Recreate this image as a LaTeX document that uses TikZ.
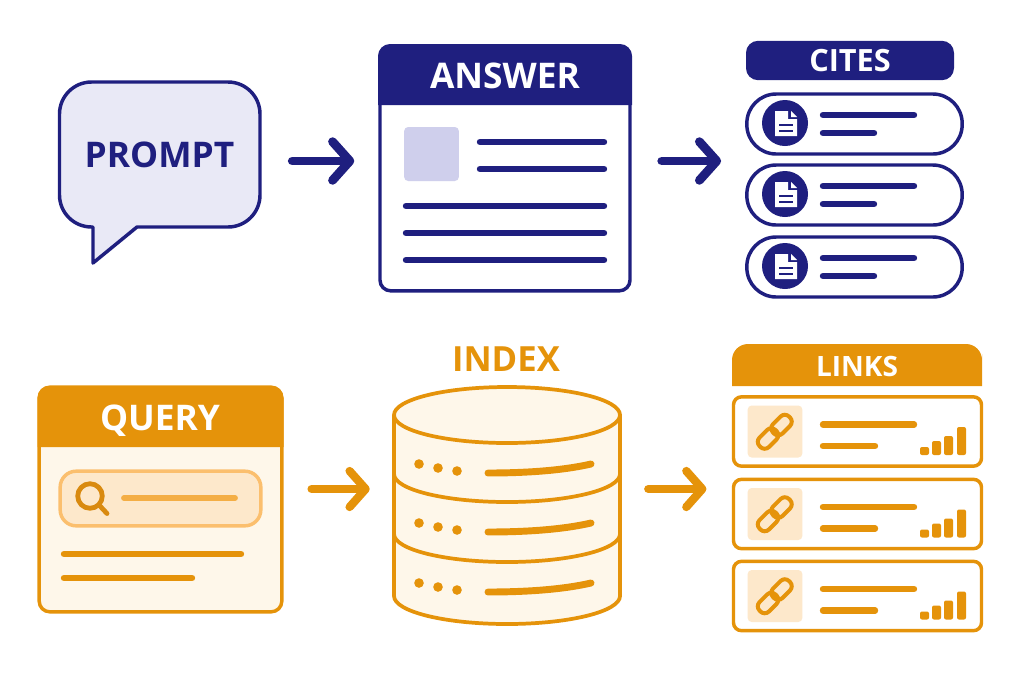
\documentclass[tikz,border=0pt]{standalone}
\usepackage{fontspec}
\setmainfont{Open Sans}
\usetikzlibrary{arrows.meta}
\definecolor{navyc}{HTML}{1F1F7F}
\definecolor{bubblec}{HTML}{E9E9F6}
\definecolor{tilec}{HTML}{CFCFEC}
\definecolor{amberc}{HTML}{E5930A}
\definecolor{creamc}{HTML}{FEF7EA}
\definecolor{peachc}{HTML}{FDE8CB}
\definecolor{softc}{HTML}{FBBF6E}
\definecolor{midc}{HTML}{F4AE45}
\definecolor{darkc}{HTML}{D98A10}
% one row of the upper right list
\newcommand{\citerow}[2]{
    \node[citepill] at (854.5,#2) (#1) {};
    \node[citedisc] at (785,#2-1) (#1disc) {};
    \fill[white] (775,#2-13) -- (788,#2-13) -- (788,#2-5) -- (797,#2-5) -- (797,#2+12) -- (775,#2+12) -- cycle;
    \fill[white] (791,#2-13) -- (797,#2-7) -- (791,#2-7) -- cycle;
    \draw[navyc,line width=2pt] (779,#2+1) -- (793,#2+1);
    \draw[navyc,line width=2pt] (779,#2+7) -- (793,#2+7);
    \draw[navyline] (823,#2-9) -- (914,#2-9);
    \draw[navyline] (823,#2+9) -- (874,#2+9);
}
% one row of the lower right list
\newcommand{\linkrow}[2]{
    \node[linkbox] at (857.5,#2) (#1) {};
    \node[linktile] at (775,#2) (#1tile) {};
    \node[linkring] at (768,#2+7) (#1ringa) {};
    \node[linkring] at (781.5,#2-6.5) (#1ringb) {};
    \draw[amberline] (823,#2-7) -- (914,#2-7);
    \draw[amberline] (823,#2+14.5) -- (875,#2+14.5);
    \fill[amberc,rounded corners=1.5pt] (920,#2+23.5) rectangle (929,#2+15.5);
    \fill[amberc,rounded corners=1.5pt] (932,#2+23.5) rectangle (941,#2+9.5);
    \fill[amberc,rounded corners=1.5pt] (944,#2+23.5) rectangle (953,#2+4.5);
    \fill[amberc,rounded corners=1.5pt] (957,#2+23.5) rectangle (966,#2-4.5);
}
% one tier of the cylinder
\newcommand{\dbrow}[1]{
    \fill[amberc] (419,#1-5) circle (3.6pt);
    \fill[amberc] (438,#1-1) circle (3.6pt);
    \fill[amberc] (457,#1+2) circle (3.6pt);
    \draw[amberc,line width=5.2pt,line cap=round] (488,#1+4) .. controls (530,#1+4) and (565,#1+1) .. (591,#1-5);
}
\begin{document}
\begin{tikzpicture}[
        x=0.75pt,
        y=-0.75pt,
        font=\bfseries
    ]
    \tikzset{
        titlen/.style = {text=navyc,font=\bfseries\fontsize{26.5}{26.5}\selectfont,inner sep=0pt},
        titlew/.style = {text=white,font=\bfseries\fontsize{26.5}{26.5}\selectfont,inner sep=0pt},
        titles/.style = {text=white,font=\bfseries\fontsize{23}{23}\selectfont,inner sep=0pt},
        titlel/.style = {text=white,font=\bfseries\fontsize{21}{21}\selectfont,inner sep=0pt},
        titlea/.style = {text=amberc,font=\bfseries\fontsize{26}{26}\selectfont,inner sep=0pt},
        navyline/.style = {navyc,line width=4.8pt,line cap=round},
        amberline/.style = {amberc,line width=4.8pt,line cap=round},
        navyarrow/.style = {navyc,line width=6.6pt,line cap=round,-{Straight Barb[round,line width=6.6pt,length=13pt,width=29pt]}},
        amberarrow/.style = {amberc,line width=6.2pt,line cap=round,-{Straight Barb[round,line width=6.2pt,length=12pt,width=27pt]}},
        answerbox/.style = {draw=navyc,line width=2.6pt,fill=white,rounded corners=8pt,minimum width=187.5pt,minimum height=183.5pt},
        citepill/.style = {draw=navyc,line width=2.6pt,fill=white,rounded corners=22pt,minimum width=161.5pt,minimum height=45pt},
        citedisc/.style = {circle,fill=navyc,inner sep=0pt,minimum size=34.5pt},
        querybox/.style = {draw=amberc,line width=2.6pt,fill=creamc,rounded corners=8pt,minimum width=182pt,minimum height=168.5pt},
        searchbar/.style = {draw=softc,line width=2.6pt,fill=peachc,rounded corners=12pt,minimum width=150.5pt,minimum height=41pt},
        linkbox/.style = {draw=amberc,line width=2.6pt,fill=white,rounded corners=6pt,minimum width=186pt,minimum height=52pt},
        linktile/.style = {fill=peachc,rounded corners=3pt,minimum width=41pt,minimum height=39pt},
        linkring/.style = {draw=amberc,line width=3pt,rounded corners=4.5pt,rotate=45,minimum width=17pt,minimum height=10pt},
        dbtier/.style = {draw=amberc,line width=2.8pt,fill=creamc},
    }
    \useasboundingbox (0,0) rectangle (1024,683);
    \coordinate (rowa) at (0,161);
    \coordinate (rowb) at (0,489);
    % prompt bubble
    \draw[draw=navyc,line width=2.6pt,fill=bubblec,line join=round] (93,227) [rounded corners=24pt] -- (59.5,227) -- (59.5,82) -- (260,82) -- (260,227) -- (200,227) [sharp corners] -- (137,227) -- (93,263) -- cycle;
    \node[titlen,minimum width=150.75pt,minimum height=108.75pt] at (159.5,154.5) (prompt) {PROMPT};
    % answer panel
    \node[answerbox] at (505,168.5) (answer) {};
    \fill[navyc] (378,105) [rounded corners=9pt] -- (378,44) -- (632,44) -- (632,80) [sharp corners] -- (632,105) -- cycle;
    \node[titlew] at (505,76) (answertitle) {ANSWER};
    \node[fill=tilec,rounded corners=3pt,minimum width=41pt,minimum height=40.5pt] at (431.5,154) (answertile) {};
    \draw[navyline] (480,142) -- (604,142);
    \draw[navyline] (480,169) -- (604,169);
    \draw[navyline] (406,206) -- (604,206);
    \draw[navyline] (406,233) -- (604,233);
    \draw[navyline] (406,260) -- (604,260);
    % cites list
    \node[fill=navyc,rounded corners=9pt,minimum width=156pt,minimum height=29.5pt] at (850,60.5) (citeshead) {};
    \node[titles] at (850,61) (citestitle) {CITES};
    \citerow{citea}{124}
    \citerow{citeb}{195}
    \citerow{citec}{267}
    % query panel
    \node[querybox] at (160.5,499.5) (query) {};
    \fill[amberc] (37.5,447) [rounded corners=9pt] -- (37.5,386) -- (283.5,386) -- (283.5,420) [sharp corners] -- (283.5,447) -- cycle;
    \node[titlew] at (160,421) (querytitle) {QUERY};
    \node[searchbar] at (160.5,498.5) (search) {};
    \draw[darkc,line width=3.6pt] (90,496) circle (9.2pt);
    \draw[darkc,line width=3.6pt,line cap=round] (100,506) -- (107,513.5);
    \draw[midc,line width=4.4pt,line cap=round] (124,498) -- (235,498);
    \draw[amberline] (64,554) -- (241,554);
    \draw[amberline] (64,578) -- (192,578);
    % index cylinder
    \node[titlea] at (506,359) (indextitle) {INDEX};
    \draw[dbtier] (394,415) -- (394,596) arc[start angle=180,end angle=0,x radius=113,y radius=28] -- (620,415);
    \draw[dbtier] (507,415) ellipse[x radius=113,y radius=28];
    \draw[dbtier,fill=none] (394,474) arc[start angle=180,end angle=0,x radius=113,y radius=28];
    \draw[dbtier,fill=none] (394,534) arc[start angle=180,end angle=0,x radius=113,y radius=28];
    \node[minimum width=169.5pt,minimum height=178pt] at (507,505.5) (index) {};
    \dbrow{469}
    \dbrow{528}
    \dbrow{588}
    % links list
    \fill[amberc] (732,386) [rounded corners=12pt] -- (732,344) -- (982,344) -- (982,370) [sharp corners] -- (982,386) -- cycle;
    \node[titlel] at (857,366) (linkstitle) {LINKS};
    \linkrow{linka}{431.5}
    \linkrow{linkb}{514}
    \linkrow{linkc}{596}
    % arrows
    \draw[navyarrow,shorten <=24pt,shorten >=18pt] (prompt.east |- rowa) -- (answer.west |- rowa);
    \draw[navyarrow,shorten <=22.5pt,shorten >=18pt] (answer.east |- rowa) -- (citea.west |- rowa);
    \draw[amberarrow,shorten <=21pt,shorten >=18pt] (query.east |- rowb) -- (index.west |- rowb);
    \draw[amberarrow,shorten <=21pt,shorten >=19pt] (index.east |- rowb) -- (linka.west |- rowb);
\end{tikzpicture}
\end{document}
